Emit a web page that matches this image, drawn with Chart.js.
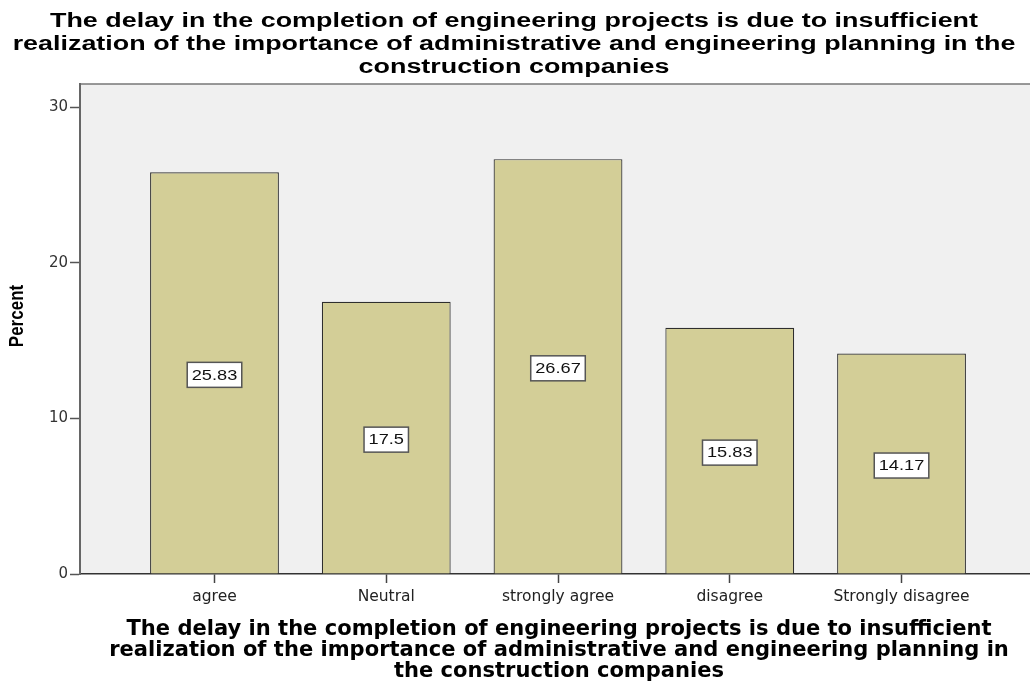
<!DOCTYPE html>
<html>
<head>
<meta charset="utf-8">
<script src="https://cdn.jsdelivr.net/npm/chart.js@4.4.1/dist/chart.umd.min.js"></script>
<style>
html,body{margin:0;padding:0;background:#fff;}
#c{display:block;}
</style>
</head>
<body>
<canvas id="c" width="1030" height="683"></canvas>
<script>
// ---- data ----
const categories = ['agree', 'Neutral', 'strongly agree', 'disagree', 'Strongly disagree'];
const percentValues = [25.83, 17.5, 26.67, 15.83, 14.17];
const yTickValues = [0, 10, 20, 30];
const chartTitleLines = [
  'The delay in the completion of engineering projects is due to insufficient',
  'realization of the importance of administrative and engineering planning in the',
  'construction companies'
];
const xTitleLines = [
  'The delay in the completion of engineering projects is due to insufficient',
  'realization of the importance of administrative and engineering planning in',
  'the construction companies'
];
const yTitleText = 'Percent';

// ---- plugins ----
const plotBg = {
  id: 'plotBg',
  beforeDraw(chart) {
    const {ctx, chartArea: a} = chart;
    ctx.save();
    ctx.fillStyle = '#ffffff';
    ctx.fillRect(0, 0, chart.width, chart.height);
    ctx.fillStyle = '#f0f0f0';
    ctx.fillRect(a.left, a.top, a.right - a.left, a.bottom - a.top);
    ctx.strokeStyle = '#777';
    ctx.lineWidth = 1.5;
    ctx.beginPath();
    ctx.moveTo(a.left, a.top);
    ctx.lineTo(a.right, a.top);
    ctx.stroke();
    ctx.restore();
  }
};

const valueLabels = {
  id: 'valueLabels',
  afterDatasetsDraw(chart) {
    const ctx = chart.ctx;
    const meta = chart.getDatasetMeta(0);
    const sx = 1.3;
    ctx.save();
    ctx.font = '14px "Liberation Sans", Arial, sans-serif';
    meta.data.forEach((bar, i) => {
      const txt = String(percentValues[i]);
      const tw = ctx.measureText(txt).width * sx;
      const w = tw + 9, h = 25;
      const cx = bar.x, cy = (bar.y + bar.base) / 2 + 2;
      ctx.fillStyle = '#ffffff';
      ctx.fillRect(cx - w / 2, cy - h / 2, w, h);
      ctx.strokeStyle = '#555';
      ctx.lineWidth = 1.5;
      ctx.strokeRect(cx - w / 2, cy - h / 2, w, h);
      ctx.save();
      ctx.translate(cx, cy + 1);
      ctx.scale(sx, 1);
      ctx.fillStyle = '#111';
      ctx.textAlign = 'center';
      ctx.textBaseline = 'middle';
      ctx.fillText(txt, 0, 0);
      ctx.restore();
    });
    ctx.restore();
  }
};

function drawStretched(ctx, lines, font, cx, baselines, targetWidth) {
  ctx.font = font;
  const sx = targetWidth / ctx.measureText(lines[0]).width;
  lines.forEach((t, i) => {
    ctx.save();
    ctx.translate(cx, baselines[i]);
    ctx.scale(sx, 1);
    ctx.textAlign = 'center';
    ctx.textBaseline = 'alphabetic';
    ctx.fillText(t, 0, 0);
    ctx.restore();
  });
}

const titles = {
  id: 'titles',
  afterDraw(chart) {
    const ctx = chart.ctx;
    ctx.save();
    ctx.fillStyle = '#000';
    drawStretched(ctx, chartTitleLines, 'bold 20.7px "Liberation Sans", Arial, sans-serif', 514, [27, 50, 73], 928);
    drawStretched(ctx, xTitleLines, 'bold 20.5px "DejaVu Sans", Verdana, sans-serif', 559, [635, 656, 677], 865);
    // y axis title
    ctx.save();
    ctx.translate(18, 316);
    ctx.scale(1.15, 1);
    ctx.rotate(-Math.PI / 2);
    ctx.font = 'bold 17px "Liberation Sans", Arial, sans-serif';
    ctx.textAlign = 'center';
    ctx.textBaseline = 'middle';
    ctx.fillText(yTitleText, 0, 0);
    ctx.restore();
    ctx.restore();
  }
};

// ---- chart ----
new Chart(document.getElementById('c'), {
  type: 'bar',
  data: {
    datasets: [{
      data: categories.map((c, i) => ({x: i, y: percentValues[i]})),
      backgroundColor: 'rgb(211,206,151)',
      borderColor: '#2e2e2e',
      borderWidth: 1.2,
      borderSkipped: 'bottom',
      categoryPercentage: 1,
      barPercentage: 0.75
    }]
  },
  options: {
    responsive: false,
    animation: false,
    devicePixelRatio: 1,
    layout: {padding: {top: 84, left: 0, right: 0, bottom: 0}},
    plugins: {
      legend: {display: false},
      tooltip: {enabled: false},
      title: {display: false}
    },
    scales: {
      x: {
        type: 'linear',
        offset: false,
        min: -0.783,
        max: 4.748,
        z: 1,
        afterFit(s) { s.height = 109; },
        afterBuildTicks(s) { s.ticks = categories.map((c, i) => ({value: i})); },
        ticks: {
          callback: (v) => categories[v],
          font: {family: 'DejaVu Sans', size: 15.5},
          color: '#222',
          padding: 5,
          maxRotation: 0,
          autoSkip: false
        },
        grid: {offset: false, drawOnChartArea: false, drawTicks: true, tickLength: 9, tickColor: '#444', tickWidth: 1.5},
        border: {display: true, color: '#333', width: 1.5}
      },
      y: {
        min: 0,
        max: 31.5,
        afterFit(s) { s.width = 80; },
        afterBuildTicks(s) { s.ticks = yTickValues.map(v => ({value: v})); },
        ticks: {
          font: {family: 'DejaVu Sans', size: 15},
          color: '#333',
          padding: 2
        },
        grid: {drawOnChartArea: false, drawTicks: true, tickLength: 10, tickColor: '#555', tickWidth: 1.5},
        border: {display: true, color: '#666', width: 2}
      }
    }
  },
  plugins: [plotBg, valueLabels, titles]
});
</script>
</body>
</html>
